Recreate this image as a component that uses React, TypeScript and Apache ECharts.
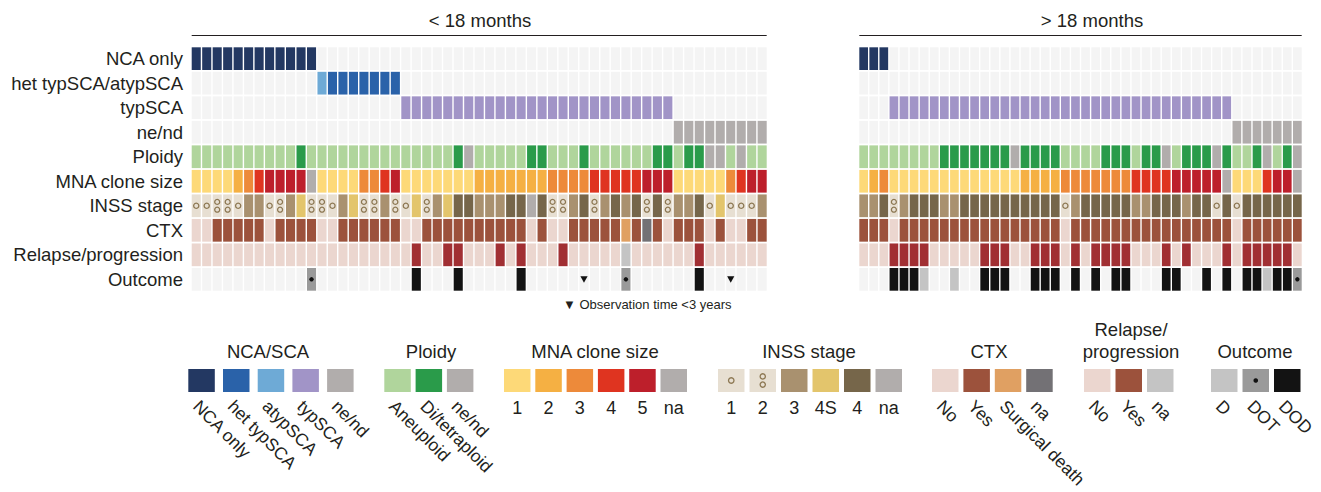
import React, { useEffect, useRef } from "react";
import * as echarts from "echarts";

const FONT = '"Liberation Sans", Arial, Helvetica, sans-serif';
const INK = "#231f20";
const EMPTY = "#f4f4f4";
const RING = "#8c7752";

const rowNames = [
  "NCA only",
  "het typSCA/atypSCA",
  "typSCA",
  "ne/nd",
  "Ploidy",
  "MNA clone size",
  "INSS stage",
  "CTX",
  "Relapse/progression",
  "Outcome",
];

// one code per case, written in blocks of ten
const codes = (s: string) => s.split(" ").join("").split("");

// ---- < 18 months (55 cases)
// NCA/SCA: N = NCA only, h = het typSCA, a = atypSCA, t = typSCA, x = ne/nd
const scaYoung = codes("NNNNNNNNNN NNahhhhhhh tttttttttt tttttttttt ttttttxxxx xxxxx");
// Ploidy: A = aneuploid, D = di/tetraploid, x = ne/nd
const ploidyYoung = codes("AAAAAAAAAA DAAAAAAAAA AAAAADxAAA AADDAAADAA AAAADDADDx xAxAA");
// MNA clone size 1-5, x = na
const mnaYoung = codes("1111234555 5x11113345 1111111222 2222333344 4445551111 13455");
// INSS stage 1, 2, 3, S = 4S, 4, x = na
const inssYoung = codes("1122133123 S2213S2232 1S23S44333 44x4223423 4342423341 S1113");
// CTX: N = no, Y = yes, S = surgical death, x = na
const ctxYoung = codes("NNYYYYYNYY YYNNYYYYYY NNYYYYYYYY YYNYNNYYYY YSYxYNYYYN YNNYY");
// Relapse/progression: N = no, Y = yes, x = na
const relapseYoung = codes("NNNNNNNNNN NNNNNNNNNN NYNNYYNNNY NYNNNYNNNN NxNNNNNNYN NNNNN");
// Outcome: - = alive, D, T = DOT, K = DOD, v = observation time < 3 years
const outcomeYoung = codes("---------- -T-------- -K---K---- -K-----v-- -T------K- -v---");

// ---- > 18 months (44 cases)
const scaOld = codes("NNNttttttt tttttttttt tttttttttt tttttttxxx xxxx");
const ploidyOld = codes("AAAAAAAADD DDDDDxDDDD AAAADDDADD xADDDxDAAD xADx");
const mnaOld = codes("1231111111 1111112222 3333333444 455555x111 455x");
const inssOld = codes("3342344433 4444444444 1344444334 4434414144 4444");
const ctxOld = codes("YYYNYYYYYY YYYYYYYYYY NYYYYYYYYY YYYYYYYNYY YYYY");
const relapseOld = codes("NNNYYYYNNN NNYYYNNYYY NYNYYYYNNN YNYNNNYNYY YYYN");
const outcomeOld = codes("---KKKD--D --KKK--KKK -K-K-KK--- KK--K-K-KK DKKT");

const SCA_ROW: Record<string, number> = { N: 0, h: 1, a: 1, t: 2, x: 3 };
const SCA_COLOR: Record<string, string> = {
  N: "#233862",
  h: "#2a62a9",
  a: "#6eaad6",
  t: "#a194c7",
  x: "#b1adac",
};
const PLOIDY_COLOR: Record<string, string> = { A: "#b0d59c", D: "#2a9b4a", x: "#b1adac" };
const MNA_COLOR: Record<string, string> = {
  "1": "#fdd978",
  "2": "#f5b043",
  "3": "#ed8a3a",
  "4": "#df3420",
  "5": "#bd1f2b",
  x: "#b1adac",
};
const INSS_COLOR: Record<string, string> = {
  "1": "#e7dfd2",
  "2": "#e7dfd2",
  "3": "#a9916f",
  S: "#e3c56c",
  "4": "#76664a",
  x: "#b1adac",
};
const CTX_COLOR: Record<string, string> = { N: "#ebd6cf", Y: "#9c523c", S: "#e0a062", x: "#737175" };
const RELAPSE_COLOR: Record<string, string> = { N: "#ebd6cf", Y: "#a12f33", x: "#c4c4c4" };
const OUTCOME_COLOR: Record<string, string> = {
  "-": EMPTY,
  v: EMPTY,
  D: "#c4c4c4",
  T: "#9a9a9a",
  K: "#131313",
};

type Cell = { col: number; row: number; fill: string; mark?: string };

type Panel = {
  title: string;
  titleX: number;
  left: number;
  width: number;
  sca: string[];
  ploidy: string[];
  mna: string[];
  inss: string[];
  ctx: string[];
  relapse: string[];
  outcome: string[];
};

const GRID_TOP = 46.4;
const GRID_HEIGHT = 245.2;

const panels: Panel[] = [
  {
    title: "< 18 months",
    titleX: 480,
    left: 191,
    width: 576.4,
    sca: scaYoung,
    ploidy: ploidyYoung,
    mna: mnaYoung,
    inss: inssYoung,
    ctx: ctxYoung,
    relapse: relapseYoung,
    outcome: outcomeYoung,
  },
  {
    title: "> 18 months",
    titleX: 1092,
    left: 858.6,
    width: 443.8,
    sca: scaOld,
    ploidy: ploidyOld,
    mna: mnaOld,
    inss: inssOld,
    ctx: ctxOld,
    relapse: relapseOld,
    outcome: outcomeOld,
  },
];

function buildCells(p: Panel): Cell[] {
  const cells: Cell[] = [];
  p.sca.forEach((code, col) => {
    for (let r = 0; r < 4; r++) {
      cells.push({ col, row: r, fill: SCA_ROW[code] === r ? SCA_COLOR[code] : EMPTY });
    }
    cells.push({ col, row: 4, fill: PLOIDY_COLOR[p.ploidy[col]] });
    cells.push({ col, row: 5, fill: MNA_COLOR[p.mna[col]] });
    const st = p.inss[col];
    cells.push({
      col,
      row: 6,
      fill: INSS_COLOR[st],
      mark: st === "1" ? "ring1" : st === "2" ? "ring2" : undefined,
    });
    cells.push({ col, row: 7, fill: CTX_COLOR[p.ctx[col]] });
    cells.push({ col, row: 8, fill: RELAPSE_COLOR[p.relapse[col]] });
    const oc = p.outcome[col];
    cells.push({
      col,
      row: 9,
      fill: OUTCOME_COLOR[oc],
      mark: oc === "T" ? "dot" : oc === "v" ? "tri" : undefined,
    });
  });
  return cells;
}

function glyphs(mark: string | undefined, cx: number, cy: number, k = 1): any[] {
  const ring = { fill: "none", stroke: RING, lineWidth: 1.3 };
  if (mark === "ring1") {
    return [{ type: "circle", shape: { cx, cy, r: 2.6 * k }, style: ring }];
  }
  if (mark === "ring2") {
    return [
      { type: "circle", shape: { cx, cy: cy - 3.9 * k, r: 2.5 * k }, style: ring },
      { type: "circle", shape: { cx, cy: cy + 3.9 * k, r: 2.5 * k }, style: ring },
    ];
  }
  if (mark === "dot") {
    return [{ type: "circle", shape: { cx, cy, r: 2.2 * k }, style: { fill: "#111111" } }];
  }
  if (mark === "tri") {
    return [
      {
        type: "polygon",
        shape: {
          points: [
            [cx - 3.6, cy - 3.1],
            [cx + 3.6, cy - 3.1],
            [cx, cy + 3.3],
          ],
        },
        style: { fill: "#111111" },
      },
    ];
  }
  return [];
}

const makeRenderer = (cells: Cell[]) => (params: any, api: any) => {
  const cell = cells[params.dataIndex];
  const pt = api.coord([api.value(0), api.value(1)]);
  const sz = api.size([1, 1]);
  const w = sz[0] - 1.4;
  const h = sz[1] - 1.8;
  const cx = pt[0];
  const cy = pt[1];
  return {
    type: "group",
    children: [
      {
        type: "rect",
        shape: { x: cx - w / 2, y: cy - h / 2, width: w, height: h },
        style: { fill: cell.fill },
      },
      ...glyphs(cell.mark, cx, cy),
    ],
  };
};

// ---- legend
type LegendItem = { label: string; fill: string; mark?: string };
type LegendGroup = {
  title: string[];
  titleX: number;
  x0: number;
  step: number;
  rotate: boolean;
  items: LegendItem[];
};

const legendGroups: LegendGroup[] = [
  {
    title: ["NCA/SCA"],
    titleX: 268,
    x0: 188.3,
    step: 34.7,
    rotate: true,
    items: [
      { label: "NCA only", fill: SCA_COLOR.N },
      { label: "het typSCA", fill: SCA_COLOR.h },
      { label: "atypSCA", fill: SCA_COLOR.a },
      { label: "typSCA", fill: SCA_COLOR.t },
      { label: "ne/nd", fill: SCA_COLOR.x },
    ],
  },
  {
    title: ["Ploidy"],
    titleX: 431,
    x0: 384.3,
    step: 31.3,
    rotate: true,
    items: [
      { label: "Aneuploid", fill: PLOIDY_COLOR.A },
      { label: "Di/tetraploid", fill: PLOIDY_COLOR.D },
      { label: "ne/nd", fill: PLOIDY_COLOR.x },
    ],
  },
  {
    title: ["MNA clone size"],
    titleX: 595,
    x0: 504,
    step: 31.3,
    rotate: false,
    items: [
      { label: "1", fill: MNA_COLOR["1"] },
      { label: "2", fill: MNA_COLOR["2"] },
      { label: "3", fill: MNA_COLOR["3"] },
      { label: "4", fill: MNA_COLOR["4"] },
      { label: "5", fill: MNA_COLOR["5"] },
      { label: "na", fill: MNA_COLOR.x },
    ],
  },
  {
    title: ["INSS stage"],
    titleX: 809,
    x0: 718,
    step: 31.5,
    rotate: false,
    items: [
      { label: "1", fill: INSS_COLOR["1"], mark: "ring1" },
      { label: "2", fill: INSS_COLOR["2"], mark: "ring2" },
      { label: "3", fill: INSS_COLOR["3"] },
      { label: "4S", fill: INSS_COLOR.S },
      { label: "4", fill: INSS_COLOR["4"] },
      { label: "na", fill: INSS_COLOR.x },
    ],
  },
  {
    title: ["CTX"],
    titleX: 989,
    x0: 932,
    step: 31.4,
    rotate: true,
    items: [
      { label: "No", fill: CTX_COLOR.N },
      { label: "Yes", fill: CTX_COLOR.Y },
      { label: "Surgical death", fill: CTX_COLOR.S },
      { label: "na", fill: CTX_COLOR.x },
    ],
  },
  {
    title: ["Relapse/", "progression"],
    titleX: 1131,
    x0: 1084,
    step: 31.5,
    rotate: true,
    items: [
      { label: "No", fill: RELAPSE_COLOR.N },
      { label: "Yes", fill: CTX_COLOR.Y },
      { label: "na", fill: RELAPSE_COLOR.x },
    ],
  },
  {
    title: ["Outcome"],
    titleX: 1255,
    x0: 1211,
    step: 31.5,
    rotate: true,
    items: [
      { label: "D", fill: OUTCOME_COLOR.D },
      { label: "DOT", fill: OUTCOME_COLOR.T, mark: "dot" },
      { label: "DOD", fill: OUTCOME_COLOR.K },
    ],
  },
];

const SW_Y = 369;
const SW_W = 26.5;
const SW_H = 23;

function legendGraphics(): any[] {
  const out: any[] = [];
  legendGroups.forEach((g) => {
    g.title.forEach((line, i) => {
      out.push({
        type: "text",
        x: g.titleX,
        y: 351 - (g.title.length - 1 - i) * 22,
        style: {
          text: line,
          fontSize: 18.5,
          fontFamily: FONT,
          fill: INK,
          align: "center",
          verticalAlign: "middle",
        },
      });
    });
    g.items.forEach((it, i) => {
      const x = g.x0 + i * g.step;
      out.push({
        type: "rect",
        shape: { x, y: SW_Y, width: SW_W, height: SW_H },
        style: { fill: it.fill },
      });
      glyphs(it.mark, x + SW_W / 2, SW_Y + SW_H / 2, 1.05).forEach((el) => out.push(el));
      if (g.rotate) {
        out.push({
          type: "text",
          x: x + SW_W / 2 + 1,
          y: 397,
          rotation: -Math.PI / 4,
          style: {
            text: it.label,
            fontSize: 17.5,
            fontFamily: FONT,
            fill: INK,
            align: "left",
            verticalAlign: "top",
          },
        });
      } else {
        out.push({
          type: "text",
          x: x + SW_W / 2,
          y: 408,
          style: {
            text: it.label,
            fontSize: 18,
            fontFamily: FONT,
            fill: INK,
            align: "center",
            verticalAlign: "middle",
          },
        });
      }
    });
  });
  return out;
}

export default function App() {
  const ref = useRef<HTMLDivElement>(null);

  useEffect(() => {
    document.body.style.margin = "0";
    if (!ref.current) return;
    const chart = echarts.init(ref.current, undefined, { renderer: "svg" });

    const cellSets = panels.map(buildCells);

    const headers: any[] = [];
    panels.forEach((p) => {
      headers.push({
        type: "text",
        x: p.titleX,
        y: 20,
        style: {
          text: p.title,
          fontSize: 18.5,
          fontFamily: FONT,
          fill: INK,
          align: "center",
          verticalAlign: "middle",
        },
      });
      headers.push({
        type: "line",
        shape: { x1: p.left + 0.7, y1: 35.5, x2: p.left + p.width - 0.7, y2: 35.5 },
        style: { stroke: INK, lineWidth: 1 },
      });
    });

    const footnote = {
      type: "text",
      x: 563,
      y: 304,
      style: {
        text: "\u25BC Observation time <3 years",
        fontSize: 13,
        fontFamily: FONT,
        fill: INK,
        align: "left",
        verticalAlign: "middle",
      },
    };

    chart.setOption({
      animation: false,
      backgroundColor: "#ffffff",
      grid: panels.map((p) => ({
        left: p.left,
        top: GRID_TOP,
        width: p.width,
        height: GRID_HEIGHT,
        containLabel: false,
      })),
      xAxis: panels.map((p, i) => ({
        type: "category",
        gridIndex: i,
        data: p.sca.map((_, k) => `case ${k + 1}`),
        show: false,
      })),
      yAxis: panels.map((_, i) => ({
        type: "category",
        gridIndex: i,
        data: rowNames,
        inverse: true,
        show: i === 0,
        axisLine: { show: false },
        axisTick: { show: false },
        splitLine: { show: false },
        axisLabel: {
          show: i === 0,
          interval: 0,
          fontSize: 18.5,
          fontFamily: FONT,
          color: INK,
          margin: 8,
        },
      })),
      series: cellSets.map((cells, i) => ({
        type: "custom",
        xAxisIndex: i,
        yAxisIndex: i,
        clip: false,
        silent: true,
        data: cells.map((c) => [c.col, c.row]),
        renderItem: makeRenderer(cells),
      })),
      graphic: [...headers, footnote, ...legendGraphics()],
    });

    return () => {
      chart.dispose();
    };
  }, []);

  return <div ref={ref} style={{ width: 1321, height: 492 }} />;
}
